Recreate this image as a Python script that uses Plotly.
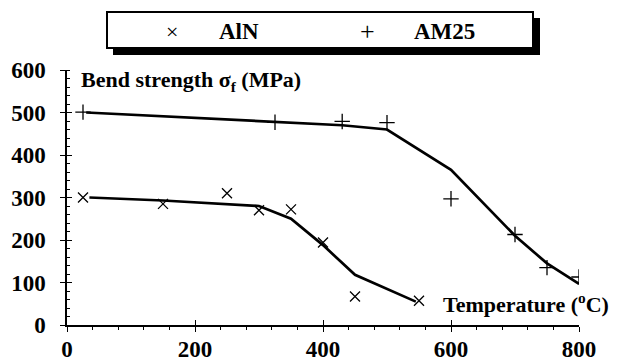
import plotly.graph_objects as go

# ---- data ----
aln_temp = [25, 150, 250, 300, 350, 400, 450, 550]
aln_strength = [300, 285, 310, 270, 272, 194, 67, 57]
aln_fit_temp = [35, 150, 300, 350, 400, 450, 545]
aln_fit_strength = [300, 293, 280, 250, 188, 118, 55]

am25_temp = [25, 325, 430, 500, 600, 700, 750, 800]
am25_strength = [501, 477, 479, 476, 297, 213, 135, 113]
am25_fit_temp = [30, 325, 430, 500, 600, 700, 750, 800]
am25_fit_strength = [500, 478, 470, 460, 365, 210, 145, 97]

x_ticks = [0, 200, 400, 600, 800]
y_ticks = [0, 100, 200, 300, 400, 500, 600]

# page has an 8px body margin: figure is shrunk so it ends at the window edge
OFF = 8
W, H = 620 - OFF, 361 - OFF
X0, X1, Y0, Y1 = 67, 579, 70, 325      # plot area in window pixels
L, R, T, B = X0 - OFF, W - (X1 - OFF), Y0 - OFF, H - (Y1 - OFF)
PW, PH = X1 - X0, Y1 - Y0


def px(x):
    return (x - X0) / PW


def py(y):
    return (Y1 - y) / PH


FONT = "Liberation Serif, Times New Roman, serif"

fig = go.Figure()

fig.add_trace(go.Scatter(x=aln_fit_temp, y=aln_fit_strength, mode="lines",
                         line=dict(color="black", width=2.7), showlegend=False,
                         hoverinfo="skip"))
fig.add_trace(go.Scatter(x=am25_fit_temp, y=am25_fit_strength, mode="lines",
                         line=dict(color="black", width=2.7), showlegend=False,
                         hoverinfo="skip"))
fig.add_trace(go.Scatter(x=aln_temp, y=aln_strength, mode="markers", name="AlN",
                         marker=dict(symbol="x-thin-open", size=10, color="black",
                                     line=dict(color="black", width=1.3)),
                         showlegend=False))
fig.add_trace(go.Scatter(x=am25_temp, y=am25_strength, mode="markers", name="AM25",
                         marker=dict(symbol="cross-thin-open", size=11, color="black",
                                     line=dict(color="black", width=1.3)),
                         showlegend=False))
# invisible trace for overlay axes (crossing major ticks)
fig.add_trace(go.Scatter(x=[0], y=[0], xaxis="x2", yaxis="y2", mode="markers",
                         marker=dict(opacity=0), showlegend=False, hoverinfo="skip"))

tickfont = dict(family=FONT, size=23, color="black", weight="bold")

fig.update_layout(
    width=W, height=H,
    margin=dict(l=L, r=R, t=T, b=B),
    paper_bgcolor="white", plot_bgcolor="white",
    showlegend=False,
    xaxis=dict(range=[0, 800], tickvals=x_ticks, ticks="outside", ticklen=5,
               tickwidth=1.3, tickcolor="black", showline=True, linecolor="black",
               linewidth=1.5, showgrid=False, zeroline=False, tickfont=tickfont,
               ticklabelstandoff=-2, automargin=False,
               minor=dict(dtick=40, ticks="outside", ticklen=3, tickcolor="black",
                          tickwidth=1, showgrid=False)),
    yaxis=dict(range=[0, 600], tickvals=y_ticks, ticks="outside", ticklen=5,
               tickwidth=1.3, tickcolor="black", showline=True, linecolor="black",
               linewidth=1.5, showgrid=False, zeroline=False, tickfont=tickfont,
               ticklabelstandoff=10, automargin=False,
               minor=dict(dtick=20, ticks="inside", ticklen=3, tickcolor="black",
                          tickwidth=1, showgrid=False)),
    xaxis2=dict(range=[0, 800], overlaying="x", anchor="y", side="bottom",
                tickvals=x_ticks, ticks="inside", ticklen=5, tickwidth=1.3,
                tickcolor="black", showticklabels=False, showline=False,
                showgrid=False, zeroline=False, automargin=False),
    yaxis2=dict(range=[0, 600], overlaying="y", anchor="x", side="left",
                tickvals=y_ticks, ticks="inside", ticklen=5, tickwidth=1.3,
                tickcolor="black", showticklabels=False, showline=False,
                showgrid=False, zeroline=False, automargin=False),
)

# legend box with shadow
fig.add_shape(type="rect", xref="paper", yref="paper",
              x0=px(113), x1=px(540), y0=py(55), y1=py(18),
              fillcolor="black", line=dict(width=0), layer="above")
fig.add_shape(type="rect", xref="paper", yref="paper",
              x0=px(107), x1=px(533), y0=py(48), y1=py(12),
              fillcolor="white", line=dict(color="black", width=2), layer="above")

legfont = dict(family=FONT, size=23, color="black")
fig.add_annotation(x=px(172), y=py(31), xref="paper", yref="paper", text="×",
                   showarrow=False, xanchor="center", yanchor="middle",
                   font=dict(family=FONT, size=22, color="black"))
fig.add_annotation(x=px(217), y=py(31), xref="paper", yref="paper", text="<b>AlN</b>",
                   showarrow=False, xanchor="left", yanchor="middle", font=legfont)
fig.add_annotation(x=px(367), y=py(31), xref="paper", yref="paper", text="+",
                   showarrow=False, xanchor="center", yanchor="middle",
                   font=dict(family=FONT, size=26, color="black"))
fig.add_annotation(x=px(412), y=py(31), xref="paper", yref="paper", text="<b>AM25</b>",
                   showarrow=False, xanchor="left", yanchor="middle", font=legfont)

# axis titles inside plot
fig.add_annotation(x=px(79), y=py(81), xref="paper", yref="paper",
                   text="<b>Bend strength σ<sub>f</sub> (MPa)</b>",
                   showarrow=False, xanchor="left", yanchor="middle",
                   font=dict(family=FONT, size=22, color="black"))
fig.add_annotation(x=px(611), y=py(303), xref="paper", yref="paper",
                   text="<b>Temperature (<sup>o</sup>C)</b>",
                   showarrow=False, xanchor="right", yanchor="middle",
                   font=dict(family=FONT, size=22, color="black"))

fig.write_html("out.html")
